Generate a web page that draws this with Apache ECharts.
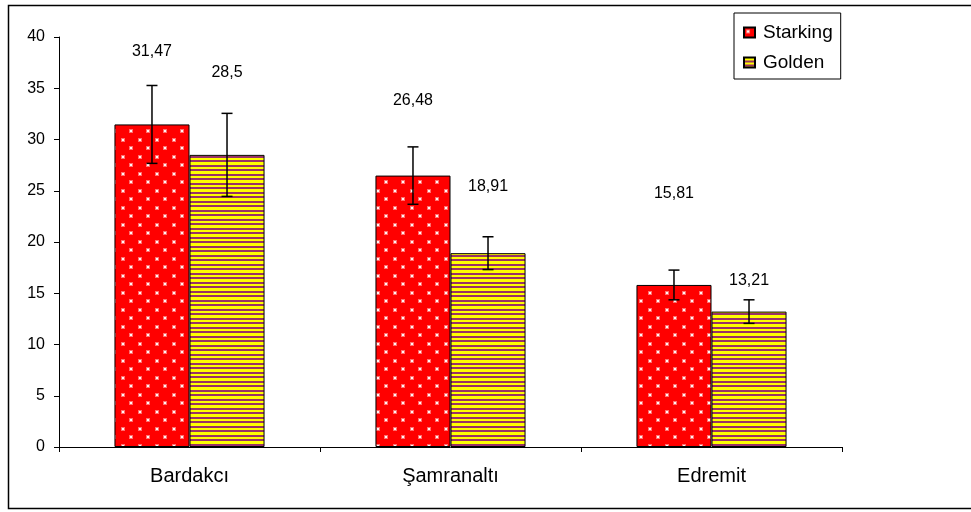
<!DOCTYPE html>
<html><head><meta charset="utf-8">
<script src="https://cdn.jsdelivr.net/npm/echarts@6/dist/echarts.min.js"></script>
<style>html,body{margin:0;padding:0;background:#fff;}#c{width:971px;height:512px;}</style>
</head><body><div id="c"></div>
<script>
const categories = ['Bardakcı', 'Şamranaltı', 'Edremit'];
const starking = [31.47, 26.48, 15.81];
const golden = [28.5, 18.91, 13.21];
const starkingErr = [3.8, 2.8, 1.45];
const goldenErr = [4.05, 1.6, 1.15];
const starkingLabels = ['31,47', '26,48', '15,81'];
const goldenLabels = ['28,5', '18,91', '13,21'];
// extra upward shift of value labels (px)
const starkingLift = [60, 62, 78];
const goldenLift = [69, 54, 18];

function dotPattern() {
  const c = document.createElement('canvas'); c.width = 17; c.height = 17;
  const g = c.getContext('2d');
  g.fillStyle = '#FF0000'; g.fillRect(0, 0, 17, 17);
  [[3, 3], [11, 11]].forEach(function (p) {
    g.fillStyle = 'rgba(255,200,200,0.55)';
    g.fillRect(p[0] - 1, p[1] - 1, 4, 4);
    g.fillStyle = '#FFF4F4';
    g.fillRect(p[0], p[1], 2, 2);
  });
  return c;
}
function stripePattern() {
  const c = document.createElement('canvas'); c.width = 4; c.height = 9;
  const g = c.getContext('2d');
  g.fillStyle = '#FFFF00'; g.fillRect(0, 0, 4, 9);
  g.fillStyle = '#993366'; g.fillRect(0, 3, 4, 2); g.fillRect(0, 7, 4, 2);
  return c;
}
const redFill = { image: dotPattern(), repeat: 'repeat' };
const yelFill = { image: stripePattern(), repeat: 'repeat' };
const CAT_GAP = 0.425;
const FONT = '"Liberation Sans", Arial, sans-serif';

function errSeries(name, vals, errs, side) {
  return {
    type: 'custom', name: name + '_err', z: 10, silent: true,
    data: vals.map((v, i) => [i, v, errs[i]]),
    renderItem: function (params, api) {
      const i = api.value(0), v = api.value(1), e = api.value(2);
      const band = api.size([1, 0])[0];
      const bw = band * (1 - CAT_GAP) / 2;
      const x = api.coord([i, v])[0] + side * bw / 2;
      const hi = api.coord([i, v + e])[1], lo = api.coord([i, v - e])[1];
      const st = { stroke: '#000', lineWidth: 1.5 };
      return { type: 'group', children: [
        { type: 'line', shape: { x1: x, y1: hi, x2: x, y2: lo }, style: st },
        { type: 'line', shape: { x1: x - 5.5, y1: hi, x2: x + 5.5, y2: hi }, style: st },
        { type: 'line', shape: { x1: x - 5.5, y1: lo, x2: x + 5.5, y2: lo }, style: st }
      ]};
    }
  };
}

function barData(vals, labels, lifts) {
  return vals.map((v, i) => ({ value: v, label: { formatter: labels[i], offset: [0, -lifts[i]] } }));
}

const chart = echarts.init(document.getElementById('c'), null, { renderer: 'canvas' });
chart.setOption({
  animation: false,
  backgroundColor: '#fff',
  textStyle: { fontFamily: FONT },
  graphic: [{ type: 'rect', shape: { x: 8.5, y: 5.5, width: 970, height: 503 },
    style: { fill: 'none', stroke: '#000', lineWidth: 1.5 }, z: -1 }],
  grid: { left: 59, right: 129, top: 37, bottom: 65, containLabel: false },
  legend: {
    orient: 'vertical', left: 734, top: 13,
    data: ['Starking', 'Golden'],
    backgroundColor: '#fff', borderColor: '#000', borderWidth: 1,
    padding: [10, 8, 7, 9], itemGap: 11, itemWidth: 11, itemHeight: 10,
    icon: 'rect',
    textStyle: { fontFamily: FONT, fontSize: 19, color: '#000', padding: [0, 0, 0, 3] }
  },
  xAxis: {
    type: 'category', data: categories,
    axisLine: { lineStyle: { color: '#000', width: 1 } },
    axisTick: { show: true, length: 5, lineStyle: { color: '#000' } },
    axisLabel: { color: '#000', fontSize: 20, fontFamily: FONT, margin: 19 }
  },
  yAxis: {
    type: 'value', min: 0, max: 40, interval: 5,
    axisLine: { show: true, lineStyle: { color: '#000', width: 1 } },
    axisTick: { show: true, length: 5, lineStyle: { color: '#000' } },
    splitLine: { show: false },
    axisLabel: { color: '#000', fontSize: 16, fontFamily: FONT, margin: 14 }
  },
  series: [
    { name: 'Starking', type: 'bar', barGap: '0%', barCategoryGap: (CAT_GAP * 100) + '%',
      itemStyle: { color: redFill, borderColor: '#000', borderWidth: 1 },
      label: { show: true, position: 'top', color: '#000', fontSize: 16, fontFamily: FONT },
      data: barData(starking, starkingLabels, starkingLift) },
    { name: 'Golden', type: 'bar', barGap: '0%', barCategoryGap: (CAT_GAP * 100) + '%',
      itemStyle: { color: yelFill, borderColor: '#000', borderWidth: 1 },
      label: { show: true, position: 'top', color: '#000', fontSize: 16, fontFamily: FONT },
      data: barData(golden, goldenLabels, goldenLift) },
    errSeries('Starking', starking, starkingErr, -1),
    errSeries('Golden', golden, goldenErr, 1)
  ]
});
</script></body></html>
